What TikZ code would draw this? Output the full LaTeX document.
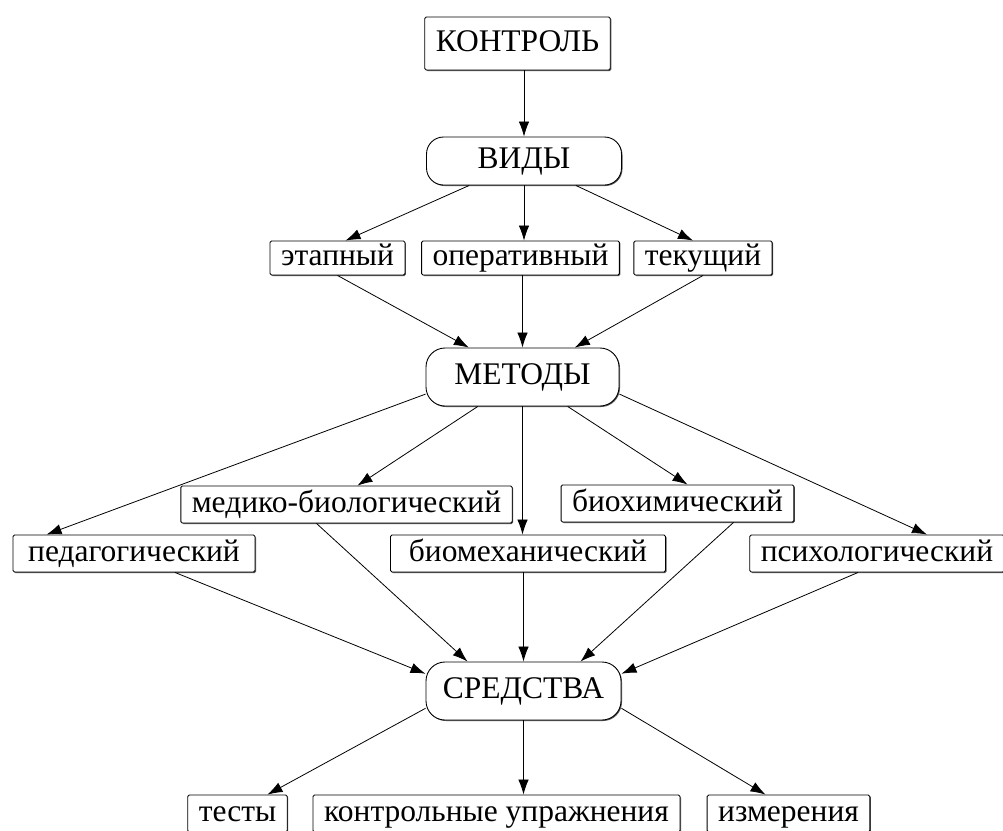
\documentclass[tikz,border=0pt]{standalone}
\usepackage{fontspec}
\setmainfont{Liberation Serif}
\usetikzlibrary{arrows.meta,shadows}
\begin{document}
\begin{tikzpicture}[x=1pt, y=-1pt,
  font={\fontsize{31.5}{36}\selectfont},
  box/.style={draw, fill=white, line width=0.9pt, rounded corners=1.5pt,
    inner xsep=11pt, inner ysep=4pt, text height=22pt, text depth=7pt,
    drop shadow={shadow xshift=1pt, shadow yshift=-1pt, fill=black!65, opacity=1}},
  pill/.style={box, rounded corners=19pt, minimum width=195pt, minimum height=56pt},
  arr/.style={-{Latex[length=15pt, width=10.5pt]}, line width=0.8pt}]
\useasboundingbox (0,0) rectangle (1003,830);
\node[box, minimum width=183pt, minimum height=53pt] at (517.5,43.5) (kontrol) {КОНТРОЛЬ};
\node[pill, minimum height=48pt, rounded corners=17pt] at (524,161) (vidy) {ВИДЫ};
\node[box, inner ysep=2.5pt] at (337.5,258) (etap) {этапный};
\node[box, inner ysep=2.5pt, minimum width=195pt] at (520.5,258) (oper) {оперативный};
\node[box, inner ysep=2.5pt] at (703,258) (tek) {текущий};
\node[pill, minimum width=193pt, minimum height=58pt] at (522.5,377) (metody) {МЕТОДЫ};
\node[box] at (346.5,504.5) (medico) {медико-биологический};
\node[box] at (677.5,503.5) (biohim) {биохимический};
\node[box, minimum width=242pt] at (134,553.5) (pedag) {педагогический};
\node[box, minimum width=275pt] at (528,553.5) (biomex) {биомеханический};
\node[box] at (877,553.5) (psih) {психологический};
\node[pill, minimum height=58pt] at (523.5,691) (sredstva) {СРЕДСТВА};
\node[box] at (237.5,813.5) (testy) {тесты};
\node[box, minimum width=367pt] at (496.5,813.5) (upr) {контрольные упражнения};
\node[box] at (788.5,813.5) (izm) {измерения};
% виды
\draw[arr] (kontrol.south -| vidy.north) -- (vidy.north);
\draw[arr] (vidy) -- ([xshift=8]etap.north);
\draw[arr] (vidy) -- (vidy |- oper.north);
\draw[arr] (vidy) -- ([xshift=-10]tek.north);
% методы
\draw[arr] (etap.south) -- (metody);
\draw[arr] (oper.south -| metody) -- (metody);
\draw[arr] (tek.south) -- (metody);
\draw[arr] (metody.190) -- ([xshift=34]pedag.north west);
\draw[arr] (metody) -- ([xshift=11]medico.north);
\draw[arr] (metody) -- (metody |- biomex.north);
\draw[arr] (metody) -- ([xshift=10]biohim.north);
\draw[arr] (metody.-10) -- ([xshift=50]psih.north);
% средства
\draw[arr] ([xshift=41]pedag.south) -- (sredstva.170);
\draw[arr] ([xshift=-30]medico.south) -- ([xshift=-56]sredstva.north);
\draw[arr] (biomex.south -| sredstva) -- (sredstva);
\draw[arr] ([xshift=56]biohim.south) -- ([xshift=57]sredstva.north);
\draw[arr] ([xshift=-19]psih.south) -- (sredstva.10);
\draw[arr] (sredstva.190) -- ([xshift=30]testy.north);
\draw[arr] (sredstva) -- (sredstva |- upr.north);
\draw[arr] (sredstva.-10) -- ([xshift=-23]izm.north);
\end{tikzpicture}
\end{document}
